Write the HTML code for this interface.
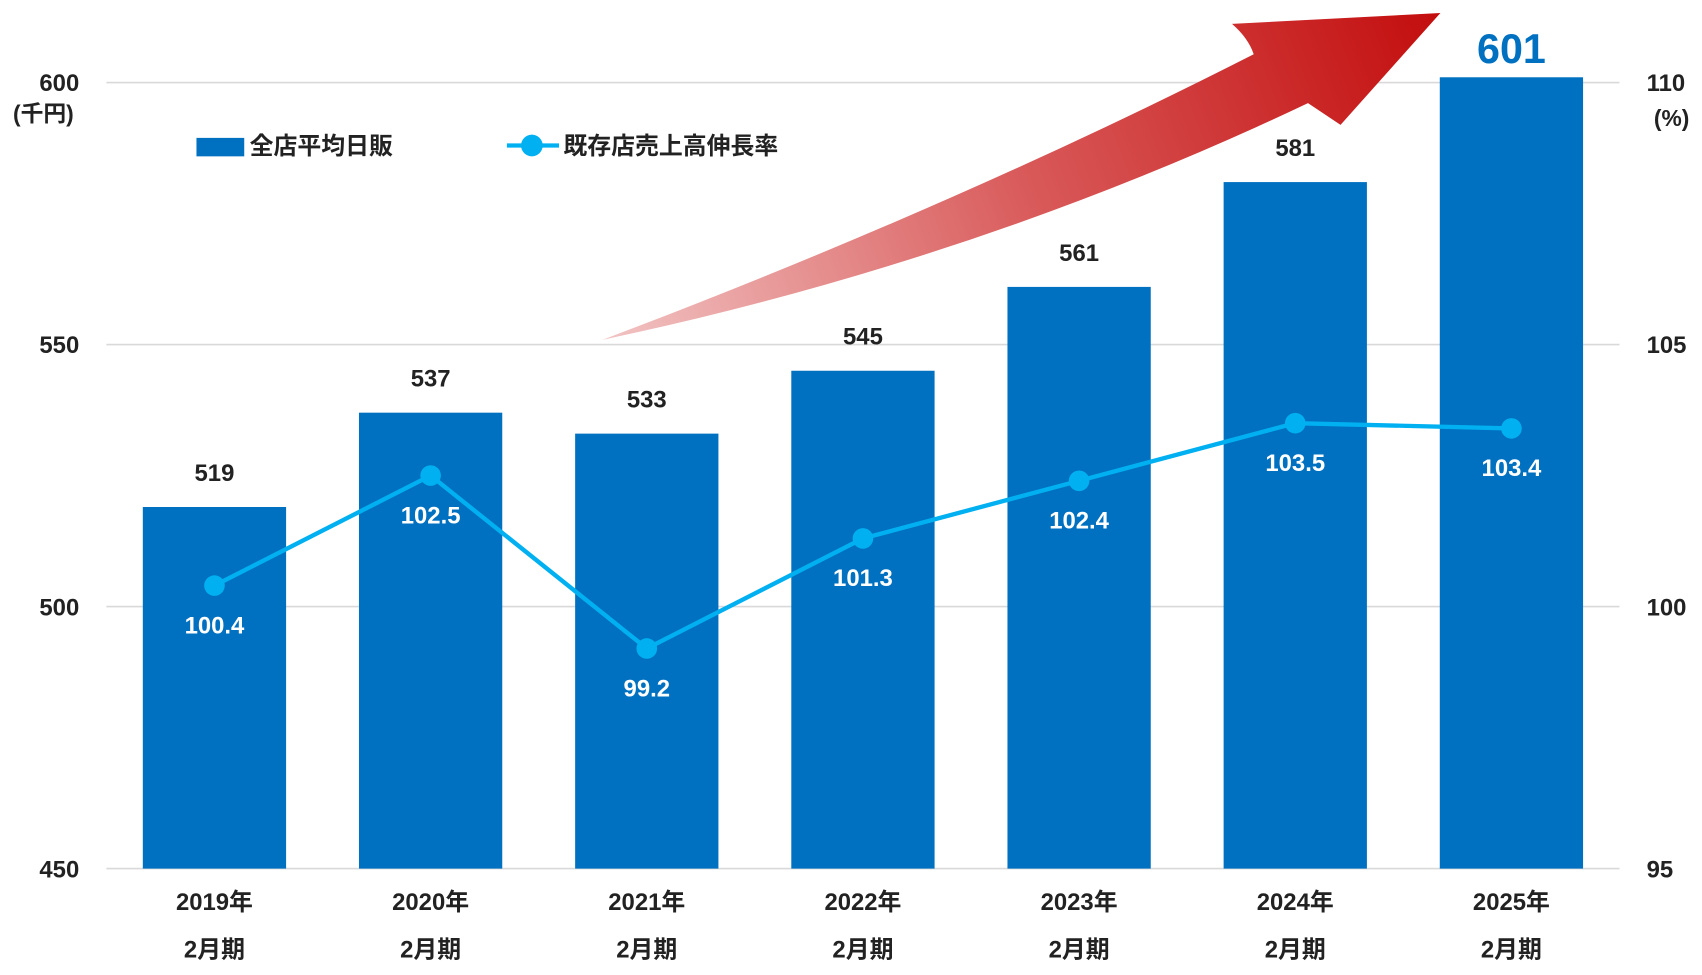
<!DOCTYPE html>
<html><head><meta charset="utf-8"><style>
html,body{margin:0;padding:0;background:#fff;}
svg{display:block;font-family:"Liberation Sans","Noto Sans CJK JP",sans-serif;}
</style></head><body>
<svg id="chart" width="1702" height="975" viewBox="0 0 1568 898" preserveAspectRatio="none" xmlns="http://www.w3.org/2000/svg">
<defs>
<linearGradient id="ag" x1="555" y1="313" x2="1327" y2="12" gradientUnits="userSpaceOnUse">
<stop offset="0" stop-color="#f2c4c4"/><stop offset="0.5" stop-color="#d95a5a"/><stop offset="1" stop-color="#c30d0d"/>
</linearGradient>
</defs>
<g id="grid"></g>
<g id="bars"></g>
<path d="M555,313 Q880,190 1155,50 Q1150,35 1135,22 L1327,12 L1235,115 L1205,95 Q900,240 555,313 Z" fill="url(#ag)"/>
<g id="line"></g>
<g id="labels"></g>
<g>
<rect x="181" y="127" width="44" height="17" fill="#0070c0"/>
<text x="230" y="142" font-size="22" font-weight="bold" fill="#222">全店平均日販</text>
<line x1="467" y1="134" x2="515" y2="134" stroke="#00b0f0" stroke-width="4"/>
<circle cx="490" cy="134" r="10" fill="#00b0f0"/>
<text x="519" y="142" font-size="22" font-weight="bold" fill="#222">既存店売上高伸長率</text>
</g>
<text x="40" y="112" font-size="21" font-weight="bold" text-anchor="middle" fill="#222">(千円)</text>
<text x="1540" y="116" font-size="21" font-weight="bold" text-anchor="middle" fill="#222">(%)</text>
</svg>
<script>
const categories=["2019年","2020年","2021年","2022年","2023年","2024年","2025年"];
const salesValues=[519,537,533,545,561,581,601];
const growthValues=[100.4,102.5,99.2,101.3,102.4,103.5,103.4];
const leftTicks=[450,500,550,600];
const rightTicks=[95,100,105,110];
const NS="http://www.w3.org/2000/svg";
const x0=98,x1=1492,yTop=76,yBot=800;
const yL=v=>yBot-(v-450)/150*(yBot-yTop);
const yR=v=>yBot-(v-95)/15*(yBot-yTop);
const step=(x1-x0)/categories.length;
const xC=i=>x0+step*(i+0.5);
function mk(tag,attrs,parent,txt){const e=document.createElementNS(NS,tag);for(const k in attrs)e.setAttribute(k,attrs[k]);if(txt!==undefined)e.textContent=txt;parent.appendChild(e);return e;}
const grid=document.getElementById('grid'),bars=document.getElementById('bars'),line=document.getElementById('line'),labels=document.getElementById('labels');
leftTicks.forEach((t)=>{const y=yL(t);
const g=mk('line',{x1:x0,x2:x1,y1:y,y2:y,stroke:'#d9d9d9','stroke-width':1.5},grid);


const l=mk('text',{x:73,y:y+8,'font-size':22,'font-weight':'bold','text-anchor':'end',fill:'#222'},labels,t);

});
rightTicks.forEach((t)=>{const y=yR(t);
const l=mk('text',{x:1517,y:y+8,'font-size':22,'font-weight':'bold',fill:'#222'},labels,t);

});
const bw=132;
salesValues.forEach((v,i)=>{const y=yL(v);
const r=mk('rect',{x:xC(i)-bw/2,y:y,width:bw,height:yBot-y,fill:'#0070c0'},bars);


const last=i===salesValues.length-1;
const t=mk('text',{x:xC(i),y:last?y-13:y-24,'font-size':last?38:22,'font-weight':'bold','text-anchor':'middle',fill:last?'#0070c0':'#222'},labels,v);


const c1=mk('text',{x:xC(i),y:838,'font-size':22,'font-weight':'bold','text-anchor':'middle',fill:'#222'},labels,categories[i]);


const c2=mk('text',{x:xC(i),y:882,'font-size':22,'font-weight':'bold','text-anchor':'middle',fill:'#222'},labels,'2月期');

});
const pts=growthValues.map((v,i)=>xC(i)+','+yR(v)).join(' ');
const pl=mk('polyline',{points:pts,fill:'none',stroke:'#00b0f0','stroke-width':4},line);


growthValues.forEach((v,i)=>{const y=yR(v);
const c=mk('circle',{cx:xC(i),cy:y,r:9.5,fill:'#00b0f0'},line);


const t=mk('text',{x:xC(i),y:y+44,'font-size':22,'font-weight':'bold','text-anchor':'middle',fill:'#fff'},labels,v.toFixed(1));

});
</script>
</body></html>
